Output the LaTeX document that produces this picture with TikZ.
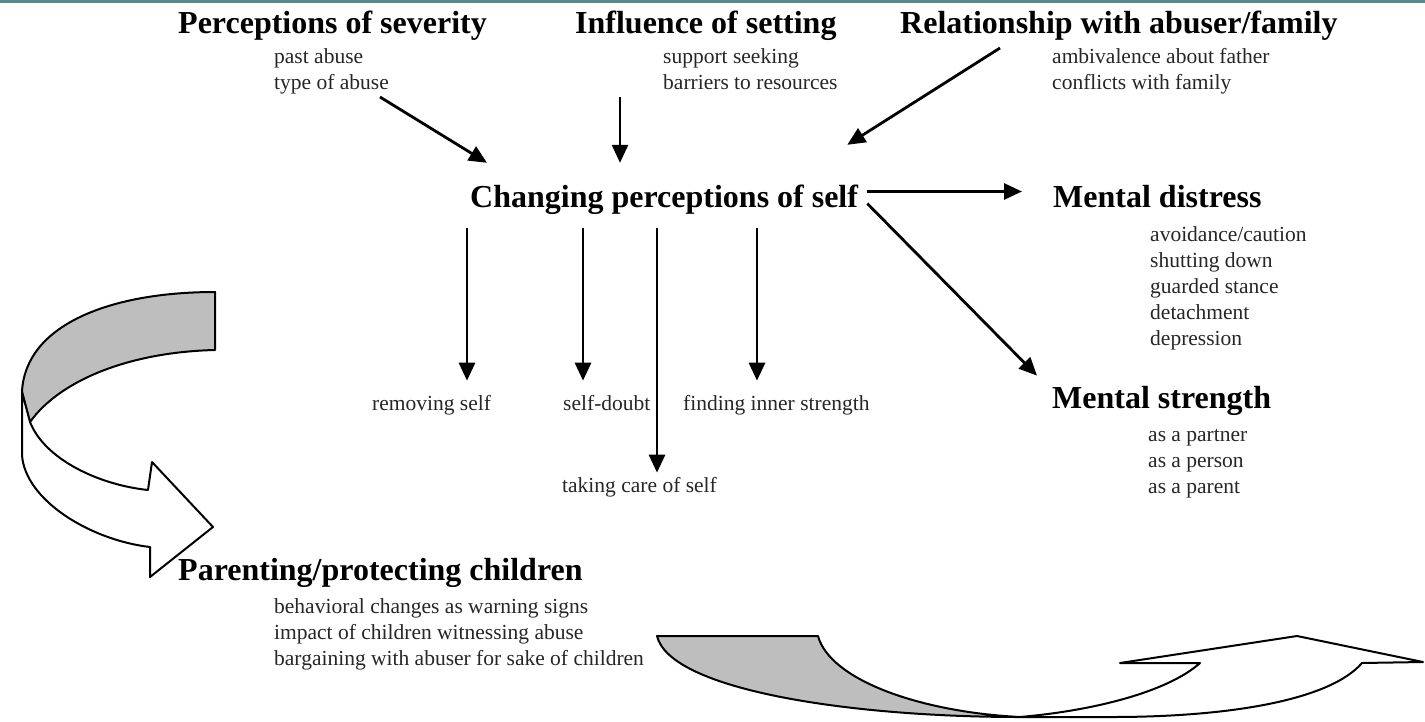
\documentclass[tikz,border=0pt]{standalone}
\usepackage{fontspec}
\setmainfont{Liberation Serif}
\usetikzlibrary{arrows.meta}
\usetikzlibrary{positioning}

\definecolor{rimteal}{RGB}{84,140,140}
\definecolor{foldgray}{RGB}{190,190,190}

\begin{document}
\begin{tikzpicture}[x=1pt,y=-1pt,
  theme/.style={font=\fontsize{32}{36}\selectfont\bfseries, inner sep=0pt, anchor=base west},
  item/.style={font=\fontsize{21.5}{26}\selectfont, inner sep=0pt, align=left, anchor=base west, text=black!85},
  arrow/.style={line width=2.8pt, -{Triangle[length=18pt,width=16pt]}},
  ribbon/.style={line width=2pt, line join=round}]
  \useasboundingbox (0,0) rectangle (1425,721);
  \draw[rimteal, line width=3pt] (0,1.5) -- (1425,1.5);

  % themes (item lists sit on the baseline of their last line)
  \node[theme] (severity) at (178,33) {Perceptions of severity};
  \node[item] (severityitems) at (274,89) {past abuse\\type of abuse};
  \node[theme] (setting) at (575,33) {Influence of setting};
  \node[item] (settingitems) at (663,89) {support seeking\\barriers to resources};
  \node[theme] (family) at (900,33) {Relationship with abuser/family};
  \node[item] (familyitems) at (1052,89) {ambivalence about father\\conflicts with family};

  \node[theme, text height=44pt, text depth=21pt, inner xsep=9pt] (self) at (461,207) {Changing perceptions of self};

  \node[theme] (distress) at (1053,207) {Mental distress};
  \node[item] (distressitems) at (1150,345) {avoidance/caution\\shutting down\\guarded stance\\detachment\\depression};
  \node[theme] (strength) at (1052,408) {Mental strength};
  \node[item] (strengthitems) at (1148,493) {as a partner\\as a person\\as a parent};

  \node[item] (removing) at (372,410) {removing self};
  \node[item] (doubt) at (563,410) {self-doubt};
  \node[item] (inner) at (683,410) {finding inner strength};
  \node[item] (care) at (562,492) {taking care of self};

  \node[theme] (parenting) at (178,580) {Parenting/protecting children};
  \node[item] (parentingitems) at (274,665) {behavioral changes as warning signs\\impact of children witnessing abuse\\bargaining with abuser for sake of children};

  % arrows into self
  \coordinate (severitytail) at (380,97);
  \coordinate (settingtail) at (620,97);
  \coordinate (familytail) at (1000,48);
  \draw[arrow] (severitytail) -- ([xshift=26pt]self.north west);
  \draw[arrow] (settingtail) -- (settingtail |- self.north);
  \draw[arrow] (familytail) -- ([xshift=-20pt,yshift=18pt]self.north east);

  % arrows out of self
  \draw[arrow, shorten >=31pt] ([yshift=4pt]self.east) -- ([yshift=4pt]self.east -| distress.west);
  \draw[arrow] ([yshift=-8pt]self.east) -- ([xshift=-15pt,yshift=10pt]strength.north west);
  \draw[arrow, shorten >=14pt] ([xshift=6pt]self.south west) -- ([xshift=6pt]self.south west |- removing.north);
  \draw[arrow, shorten >=14pt] ([xshift=122pt]self.south west) -- ([xshift=122pt]self.south west |- doubt.north);
  \draw[arrow, shorten >=14pt] ([xshift=296pt]self.south west) -- ([xshift=296pt]self.south west |- inner.north);
  \draw[arrow, shorten >=4pt] ([xshift=196pt]self.south west) -- ([xshift=196pt]self.south west |- care.north);

  % left ribbon
  \draw[ribbon, fill=foldgray] (215,292) .. controls (110,292) and (25,325) .. (22,392)
    -- (30,422) .. controls (60,380) and (130,352) .. (215,350) -- cycle;
  \draw[ribbon, fill=white] (22,392) -- (22,455) .. controls (25,500) and (90,540) .. (150,547)
    -- (150,577) -- (213,527) -- (152,462) -- (148,490)
    .. controls (100,485) and (45,460) .. (30,422) -- cycle;

  % bottom ribbon
  \draw[ribbon, fill=foldgray] (657,636) -- (818,636) .. controls (830,680) and (920,712) .. (1020,717)
    .. controls (850,717) and (670,690) .. (657,636) -- cycle;
  \draw[ribbon, fill=white] (1020,717) .. controls (1100,710) and (1170,690) .. (1200,663)
    -- (1120,663) -- (1297,636) -- (1423,662) -- (1362,663)
    .. controls (1330,700) and (1230,717) .. (1112,717) -- cycle;
\end{tikzpicture}
\end{document}
